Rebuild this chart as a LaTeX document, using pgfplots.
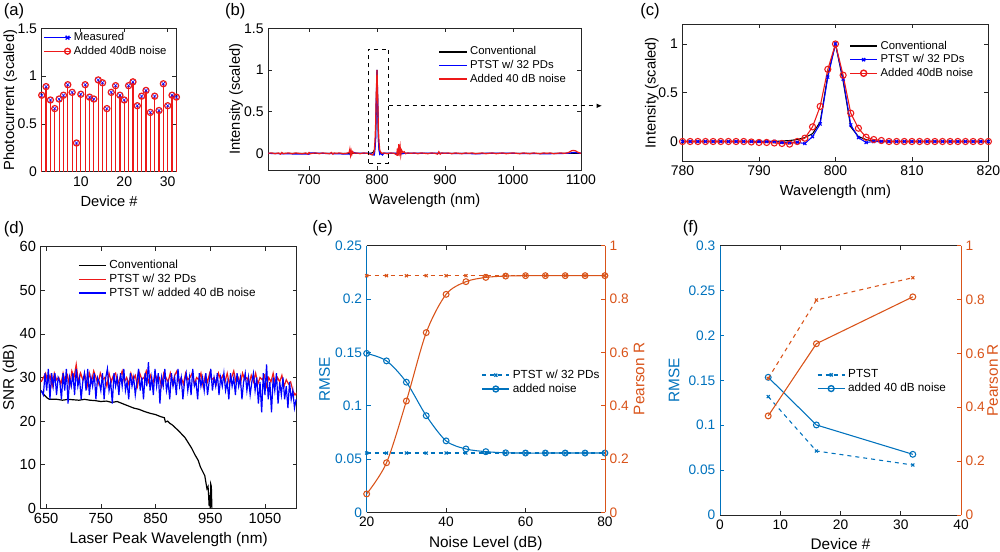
\documentclass[border=0pt]{standalone}
\usepackage{fontspec}
\setmainfont{Liberation Sans}
\usepackage{pgfplots}
\pgfplotsset{compat=1.18}
\usetikzlibrary{arrows.meta}
\definecolor{mblue}{rgb}{0,0.447,0.741}
\definecolor{morange}{rgb}{0.85,0.325,0.098}
\definecolor{axgray}{rgb}{0.15,0.15,0.15}
\definecolor{pblue}{rgb}{0,0,1}
\definecolor{pred}{rgb}{0.93,0.1,0.1}

\pgfplotsset{
  base/.style={
    scale only axis, anchor=south west,
    tick align=inside, major tick length=3pt,
    axis line style={axgray, line width=0.5pt},
    every tick/.style={axgray, line width=0.5pt},
    /pgf/number format/assume math mode=true,
    /pgf/number format/fixed, /pgf/number format/precision=2,
    /pgf/number format/1000 sep={},
    scaled ticks=false,
    legend cell align=left,
    legend style={draw=none, fill=none, inner sep=1pt, row sep=-1.5pt},
    mylegend,
  },
  mylegend/.style={legend image code/.code={\draw[mark repeat=2,mark phase=2,##1,line width=1.05pt] plot coordinates {(0cm,0cm) (0.36cm,0cm) (0.72cm,0cm)};}},
  stemlegend/.style={legend image code/.code={\draw[##1] (0cm,0cm) -- (0.7cm,0cm); \draw[##1, only marks] plot coordinates {(0.62cm,0cm)};}},
  toprow/.style={tick label style={font=\fontsize{10.5}{12}\selectfont}, label style={font=\fontsize{11}{13}\selectfont}, legend style={font=\fontsize{8.5}{10}\selectfont}},
  botrow/.style={tick label style={font=\fontsize{11}{13}\selectfont}, label style={font=\fontsize{11.5}{13}\selectfont}, legend style={font=\fontsize{8.8}{10}\selectfont}},
  botrowb/.style={tick label style={font=\fontsize{10.3}{12}\selectfont}, label style={font=\fontsize{11.5}{13}\selectfont}, legend style={font=\fontsize{8.8}{10}\selectfont}},
}

\begin{document}
\begin{tikzpicture}
\useasboundingbox (0,0) rectangle (750pt,413.25pt);

% ---------------- (a)
\begin{axis}[base, toprow, at={(31.3pt,284.5pt)}, width=101pt, height=107.5pt,
  xmin=1, xmax=32, ymin=0, ymax=1.5, xtick={10,20,30}, ytick={0,0.5,1,1.5},
  xlabel={Device \#}, ylabel={Photocurrent (scaled)}, ylabel style={yshift=-6.5pt}, clip=false,
  legend style={at={(0.0,1.0)}, anchor=north west}]
\addlegendimage{pblue, line width=1pt, mark=x, mark size=2pt, stemlegend}
\addlegendentry{Measured}
\addlegendimage{pred, line width=1pt, mark=o, mark size=2.2pt, stemlegend}
\addlegendentry{Added 40dB noise}
\addplot[pred, ycomb, line width=0.9pt, mark=o, mark size=2.3pt, forget plot] coordinates {
(1,0.80)(2,0.89)(3,0.75)(4,0.66)(5,0.76)(6,0.80)(7,0.91)(8,0.83)(9,0.30)(10,0.81)(11,0.91)(12,0.78)(13,0.76)(14,0.96)(15,0.93)(16,0.66)(17,0.83)(18,0.90)(19,0.80)(20,0.75)(21,0.90)(22,0.94)(23,0.69)(24,0.79)(25,0.85)(26,0.62)(27,0.79)(28,0.64)(29,0.92)(30,0.69)(31,0.80)(32,0.78)};
\addplot[pblue, only marks, mark=x, mark size=1.7pt, forget plot] coordinates {
(1,0.80)(2,0.89)(3,0.75)(4,0.66)(5,0.76)(6,0.80)(7,0.91)(8,0.83)(9,0.30)(10,0.81)(11,0.91)(12,0.78)(13,0.76)(14,0.96)(15,0.93)(16,0.66)(17,0.83)(18,0.90)(19,0.80)(20,0.75)(21,0.90)(22,0.94)(23,0.69)(24,0.79)(25,0.85)(26,0.62)(27,0.79)(28,0.64)(29,0.92)(30,0.69)(31,0.80)(32,0.78)};
\end{axis}

% ---------------- (b)
\begin{axis}[base, toprow, at={(201.2pt,285.75pt)}, width=234.5pt, height=106.3pt,
  xmin=640, xmax=1100, ymin=-0.2, ymax=1.5, xtick={700,800,900,1000,1100}, ytick={0,0.5,1,1.5},
  xlabel={Wavelength (nm)}, ylabel={Intensity (scaled)}, ylabel style={yshift=-6pt}, clip=false,
  legend style={at={(0.54,0.9)}, anchor=north west}]
\addplot[black, line width=0.7pt] coordinates {(640,0)(750,0)(790,0)(794,0.01)(796,0.04)(797,0.08)(798,0.2)(799,0.68)(800,1.0)(801,0.62)(802,0.15)(803,0.05)(804,0.02)(806,0)(1100,0)};
\addlegendentry{Conventional}
\addplot[pblue, line width=0.9pt] coordinates {(640,0)(660,-0.005)(700,-0.01)(701,0.005)(720,0)(760,-0.01)(762,0.02)(770,0)(790,0)(795,-0.02)(796,-0.02)(797,0.05)(798,0.18)(799,0.66)(800,1.0)(801,0.63)(802,0.17)(803,0.04)(804,-0.01)(805,0)(808,-0.02)(810,0)(830,0)(832,0.02)(834,-0.01)(840,0)(900,0)(950,-0.005)(960,0)(1000,0)(1050,-0.005)(1080,0)(1085,0.005)(1090,0.01)(1095,0.005)(1100,0)};
\addlegendentry{PTST w/ 32 PDs}
\addplot[pred, line width=0.9pt] coordinates {(640,0)(645,0.005)(650,-0.005)(655,0.005)(658,-0.01)(660,0.01)(662,-0.005)(665,0)(670,0.005)(675,-0.005)(680,0.005)(685,0)(690,-0.005)(695,0.005)(698,-0.01)(700,0.01)(702,-0.005)(705,0)(710,0.005)(715,-0.005)(720,0.005)(725,0)(730,-0.005)(733,0.01)(735,-0.01)(737,0.005)(740,0)(745,0.005)(750,-0.005)(755,0)(759,0.01)(760,0.05)(761,-0.02)(762,0.03)(763,-0.01)(764,0.02)(766,0)(770,0.005)(775,-0.005)(780,0.005)(785,0)(790,-0.01)(793,-0.02)(795,0)(796,0.03)(797,0.15)(798,0.36)(799,0.74)(800,1.0)(801,0.68)(802,0.29)(803,0.13)(804,0.04)(805,0.02)(807,0)(810,0.005)(815,-0.005)(820,0.005)(825,0)(829,-0.02)(830,0.06)(831,-0.03)(832,0.11)(833,0.02)(834,0.08)(835,-0.02)(836,0.04)(838,0.01)(840,0.02)(842,-0.005)(845,0.005)(850,0)(855,0.005)(860,-0.005)(865,0.005)(870,0)(875,-0.005)(880,0.005)(885,0)(889,-0.01)(891,0.02)(893,-0.01)(895,0.005)(900,0)(905,0.005)(910,-0.005)(915,0.005)(920,0)(925,-0.005)(930,0.005)(935,0)(940,0.005)(945,-0.005)(950,0)(955,0.005)(960,-0.005)(965,0)(970,0.005)(975,-0.005)(980,0)(985,0.005)(990,-0.005)(995,0)(1000,0.005)(1005,0)(1010,-0.005)(1015,0.005)(1020,0)(1025,-0.005)(1030,0.005)(1035,0)(1040,-0.005)(1045,0.005)(1050,0)(1055,0.005)(1060,-0.005)(1065,0)(1070,0.005)(1075,0)(1080,0.005)(1083,0.015)(1086,0.03)(1089,0.035)(1092,0.03)(1095,0.015)(1098,0.005)(1100,0)};
\addlegendentry{Added 40 dB noise}
\draw[black, dashed, line width=0.7pt] (axis cs:787,-0.12) rectangle (axis cs:817,1.25);
\draw[black, dashed, line width=0.7pt, -{Latex[length=4pt,width=3.5pt]}] (axis cs:817,0.57) -- (axis cs:1131,0.57);
\end{axis}

% ---------------- (c)
\begin{axis}[base, toprow, at={(511.9pt,292.5pt)}, width=229.4pt, height=102.4pt,
  xmin=780, xmax=820, ymin=-0.2, ymax=1.2, xtick={780,790,800,810,820}, ytick={0,0.5,1},
  xlabel={Wavelength (nm)}, ylabel={Intensity (scaled)}, ylabel style={yshift=-7pt}, clip=false,
  legend style={at={(0.54,0.91)}, anchor=north west}]
\addplot[black, line width=0.8pt] coordinates {(780,0)(792,0)(793,0.005)(794,0.01)(795,0.02)(796,0.04)(797,0.08)(798,0.2)(799,0.68)(800,1.0)(801,0.62)(802,0.15)(803,0.05)(804,0.02)(805,0.005)(806,0)(820,0)};
\addlegendentry{Conventional}
\addplot[pblue, line width=0.8pt, mark=x, mark size=1.6pt] coordinates {(780,0)(781,0)(782,0)(783,0)(784,0)(785,0)(786,0)(787,0)(788,0)(789,0)(790,0)(791,0)(792,0)(793,-0.01)(794,-0.01)(795,-0.01)(796,-0.02)(797,0.05)(798,0.18)(799,0.66)(800,1.0)(801,0.64)(802,0.17)(803,0.04)(804,-0.01)(805,0)(806,0)(807,0)(808,0)(809,0)(810,0)(811,0)(812,0)(813,0)(814,0)(815,0)(816,0)(817,0)(818,0)(819,0)(820,0)};
\addlegendentry{PTST w/ 32 PDs}
\addplot[pred, line width=0.8pt, mark=o, mark size=2.3pt] coordinates {(780,0)(781,0)(782,0)(783,0)(784,0)(785,0)(786,0)(787,0)(788,0)(789,-0.005)(790,-0.01)(791,-0.01)(792,-0.015)(793,-0.02)(794,-0.027)(795,0)(796,0.034)(797,0.15)(798,0.36)(799,0.74)(800,1.0)(801,0.68)(802,0.29)(803,0.136)(804,0.044)(805,0.02)(806,0.01)(807,0)(808,0)(809,0)(810,0)(811,0)(812,0)(813,0)(814,0)(815,0)(816,0)(817,0)(818,0)(819,0)(820,0)};
\addlegendentry{Added 40dB noise}
\end{axis}

% ---------------- (d)
\begin{axis}[base, botrow, at={(30.5pt,32pt)}, width=192pt, height=196.2pt,
  xmin=640, xmax=1108, ymin=0, ymax=60, xtick={650,750,850,950,1050}, ytick={0,10,...,60},
  xlabel={Laser Peak Wavelength (nm)}, ylabel={SNR (dB)}, ylabel style={yshift=-5pt},
  legend style={at={(0.14,0.965)}, anchor=north west}]
\addplot[black, line width=0.9pt] coordinates {(641,27)(645,26.2)(648,25.8)(652,25.3)(656,25)(660,25)(670,25)(680,24.8)(690,25)(700,24.9)(710,24.8)(720,25)(730,24.8)(740,24.7)(750,24.5)(760,24.6)(770,24.3)(780,24.5)(790,24)(800,23.5)(810,23)(820,22.7)(830,22.2)(840,21.8)(850,21.5)(860,21)(866,20.8)(868,19.8)(872,20)(876,19.5)(880,19.2)(886,18.5)(892,17.8)(898,17)(904,16.2)(910,15)(916,13.8)(922,12.3)(928,11)(932,9.5)(936,8.5)(940,7.5)(942,6)(944,4.5)(946,5)(947,3)(948,0.5)(949,3)(950,0)(951,5.5)(952,5)(953,0)};
\addlegendentry{Conventional}
\addplot[pred, line width=0.9pt] coordinates {(641,29)(645,30)(649,31)(653,29)(657,30.5)(661,28)(665,31)(669,29.5)(673,30)(677,28.5)(681,31)(685,29)(689,30.5)(693,28)(697,31.5)(701,30)(705,33)(709,29)(713,31)(717,29.5)(721,30.5)(725,28)(729,31)(733,29)(737,31.5)(741,30)(745,28.5)(749,31)(753,29.5)(757,30)(761,28)(765,31)(769,29)(773,30.5)(777,31)(781,28.5)(785,30)(789,31.5)(793,29)(797,30)(801,28.5)(805,31)(809,29.5)(813,30.5)(817,28)(821,31)(825,29.5)(829,30)(833,31.5)(837,29)(841,30.5)(845,28.5)(849,31)(853,29.5)(857,30)(861,28)(865,31)(869,30)(873,29)(877,31)(881,28.5)(885,30.5)(889,31.5)(893,29)(897,30)(901,28.5)(905,31)(909,29.5)(913,30)(917,31)(921,28.5)(925,30)(929,29.5)(933,31)(937,28)(941,30.5)(945,29)(949,31)(953,29.5)(957,30)(961,28.5)(965,31)(969,29.5)(973,30.5)(977,29)(981,31)(985,28.5)(989,30)(993,31.5)(997,29)(1001,30)(1005,28.5)(1009,31)(1013,29.5)(1017,30)(1021,28.5)(1025,30.5)(1029,29)(1033,31)(1037,28.5)(1041,30)(1045,29.5)(1049,30.5)(1053,28)(1057,30)(1061,29)(1065,31)(1069,28.5)(1073,30)(1077,29)(1081,30.5)(1085,28)(1089,29.5)(1093,28.5)(1097,29)(1101,27)(1105,26)(1108,26.5)};
\addlegendentry{PTST w/ 32 PDs}
\addplot[pblue, line width=0.9pt] coordinates {(641,27)(645,26)(648,31)(651,27)(654,32)(657,25)(660,31)(663,28)(666,31)(669,26)(672,30)(675,29)(678,25)(681,31)(684,27)(687,32)(690,24)(693,30)(696,28)(699,31)(702,26)(705,32)(708,28)(711,30)(714,25)(717,29)(720,31)(723,27)(726,32)(729,26)(732,30)(735,28)(738,31)(741,25)(744,30)(747,29)(750,27)(753,31)(756,25)(759,30)(762,32)(765,27)(768,29)(771,24)(774,31)(777,28)(780,30)(783,26)(786,31)(789,28)(792,32)(795,27)(798,29)(801,25)(804,31)(807,28)(810,30)(813,26)(816,29)(819,32)(822,27)(825,30)(828,25)(831,31)(834,28)(837,33.5)(840,27)(843,30)(846,26)(849,32)(852,28)(855,31)(858,24)(861,30)(864,28)(867,32)(870,27)(873,29)(876,25)(879,31)(882,28)(885,30)(888,26)(891,32)(894,28)(897,30)(900,25)(903,29)(906,31)(909,27)(912,30)(915,26)(918,32)(921,28)(924,29)(927,25)(930,31)(933,28)(936,30)(939,27)(942,31)(945,26)(948,29)(951,32)(954,27)(957,30)(960,28)(963,31)(966,26)(969,30)(972,28)(975,31)(978,27)(981,29)(984,25)(987,31)(990,28)(993,30)(996,26)(999,31)(1002,28)(1005,30)(1008,25)(1011,29)(1014,31)(1017,27)(1020,30)(1023,26)(1026,29)(1029,31)(1032,27)(1035,30)(1038,24)(1041,29)(1044,22)(1047,31)(1050,26)(1053,33)(1056,25)(1059,29)(1062,22)(1065,30)(1068,27)(1071,31)(1074,24)(1077,29)(1080,26)(1083,30)(1086,25)(1089,28)(1092,23)(1095,29)(1098,25)(1101,27)(1104,23)(1107,25)};
\addlegendentry{PTST w/ added 40 dB noise}
\end{axis}

% ---------------- (e) left
\begin{axis}[base, botrowb, at={(275pt,29pt)}, width=178.7pt, height=200pt,
  xmin=20, xmax=80, ymin=0, ymax=0.25, xtick={20,40,60,80}, ytick={0,0.05,0.1,0.15,0.2,0.25},
  axis x line*=box, axis y line*=left, separate axis lines,
  x axis line style={axgray}, y axis line style={mblue},
  ytick style={mblue}, yticklabel style={mblue}, ylabel style={mblue, yshift=-3pt},
  xlabel={Noise Level (dB)}, ylabel={RMSE},
  legend style={at={(0.475,0.55)}, anchor=north west}]
\addplot[mblue, line width=0.8pt, dashed, mark=x, mark size=1.6pt, mark options={solid}] coordinates {(20,0.0556)(25,0.0556)(30,0.0556)(35,0.0556)(40,0.0556)(45,0.0556)(50,0.0556)(55,0.0556)(60,0.0556)(65,0.0556)(70,0.0556)(75,0.0556)(80,0.0556)};
\addlegendentry{PTST w/ 32 PDs}
\addplot[mblue, line width=0.8pt, smooth, mark=o, mark size=2.2pt] coordinates {(20,0.149)(25,0.142)(30,0.122)(35,0.0906)(40,0.067)(45,0.0594)(50,0.0569)(55,0.0558)(60,0.0556)(65,0.0556)(70,0.0556)(75,0.0556)(80,0.0556)};
\addlegendentry{added noise}
\end{axis}
% ---------------- (e) right
\begin{axis}[base, botrowb, at={(275pt,29pt)}, width=178.7pt, height=200pt,
  xmin=20, xmax=80, ymin=0, ymax=1, ytick={0,0.2,0.4,0.6,0.8,1},
  axis x line=none, axis y line*=right,
  y axis line style={morange}, ytick style={morange}, yticklabel style={morange}, ylabel style={morange, yshift=3pt},
  ylabel={Pearson R}]
\addplot[morange, line width=0.8pt, dashed, mark=x, mark size=1.6pt, mark options={solid}] coordinates {(20,0.8875)(25,0.8875)(30,0.8875)(35,0.8875)(40,0.8875)(45,0.8875)(50,0.8875)(55,0.8875)(60,0.8875)(65,0.8875)(70,0.8875)(75,0.8875)(80,0.8875)};
\addplot[morange, line width=0.8pt, smooth, mark=o, mark size=2.2pt] coordinates {(20,0.069)(25,0.186)(30,0.4175)(35,0.674)(40,0.8175)(45,0.865)(50,0.881)(55,0.886)(60,0.8875)(65,0.8875)(70,0.8875)(75,0.8875)(80,0.8875)};
\end{axis}

% ---------------- (f) left
\begin{axis}[base, botrowb, at={(540pt,27pt)}, width=180.75pt, height=202pt,
  xmin=0, xmax=40, ymin=0, ymax=0.3, xtick={0,10,20,30,40}, ytick={0,0.05,0.1,0.15,0.2,0.25,0.3},
  axis x line*=box, axis y line*=left, separate axis lines,
  x axis line style={axgray}, y axis line style={mblue},
  ytick style={mblue}, yticklabel style={mblue}, ylabel style={mblue},
  xlabel={Device \#}, ylabel={RMSE},
  legend style={at={(0.395,0.555)}, anchor=north west}]
\addplot[mblue, line width=0.8pt, dashed, mark=x, mark size=1.6pt, mark options={solid}] coordinates {(8,0.1319)(16,0.0713)(32,0.0557)};
\addlegendentry{PTST}
\addplot[mblue, line width=0.8pt, mark=o, mark size=2.2pt] coordinates {(8,0.1534)(16,0.1003)(32,0.0676)};
\addlegendentry{added 40 dB noise}
\end{axis}
% ---------------- (f) right
\begin{axis}[base, botrowb, at={(540pt,27pt)}, width=180.75pt, height=202pt,
  xmin=0, xmax=40, ymin=0, ymax=1, ytick={0,0.2,0.4,0.6,0.8,1},
  axis x line=none, axis y line*=right,
  y axis line style={morange}, ytick style={morange}, yticklabel style={morange}, ylabel style={morange, yshift=5pt},
  ylabel={Pearson R}]
\addplot[morange, line width=0.8pt, dashed, mark=x, mark size=1.6pt, mark options={solid}] coordinates {(8,0.507)(16,0.798)(32,0.881)};
\addplot[morange, line width=0.8pt, mark=o, mark size=2.2pt] coordinates {(8,0.368)(16,0.636)(32,0.810)};
\end{axis}

% panel labels
\begin{scope}[every node/.style={font=\fontsize{12.5}{14}\selectfont}]
\node at (10.5pt,404.5pt) {(a)};
\node at (176.5pt,404.5pt) {(b)};
\node at (487.5pt,405pt) {(c)};
\node at (10.5pt,241.5pt) {(d)};
\node at (242pt,242pt) {(e)};
\node at (518pt,242pt) {(f)};
\end{scope}
\end{tikzpicture}
\end{document}
